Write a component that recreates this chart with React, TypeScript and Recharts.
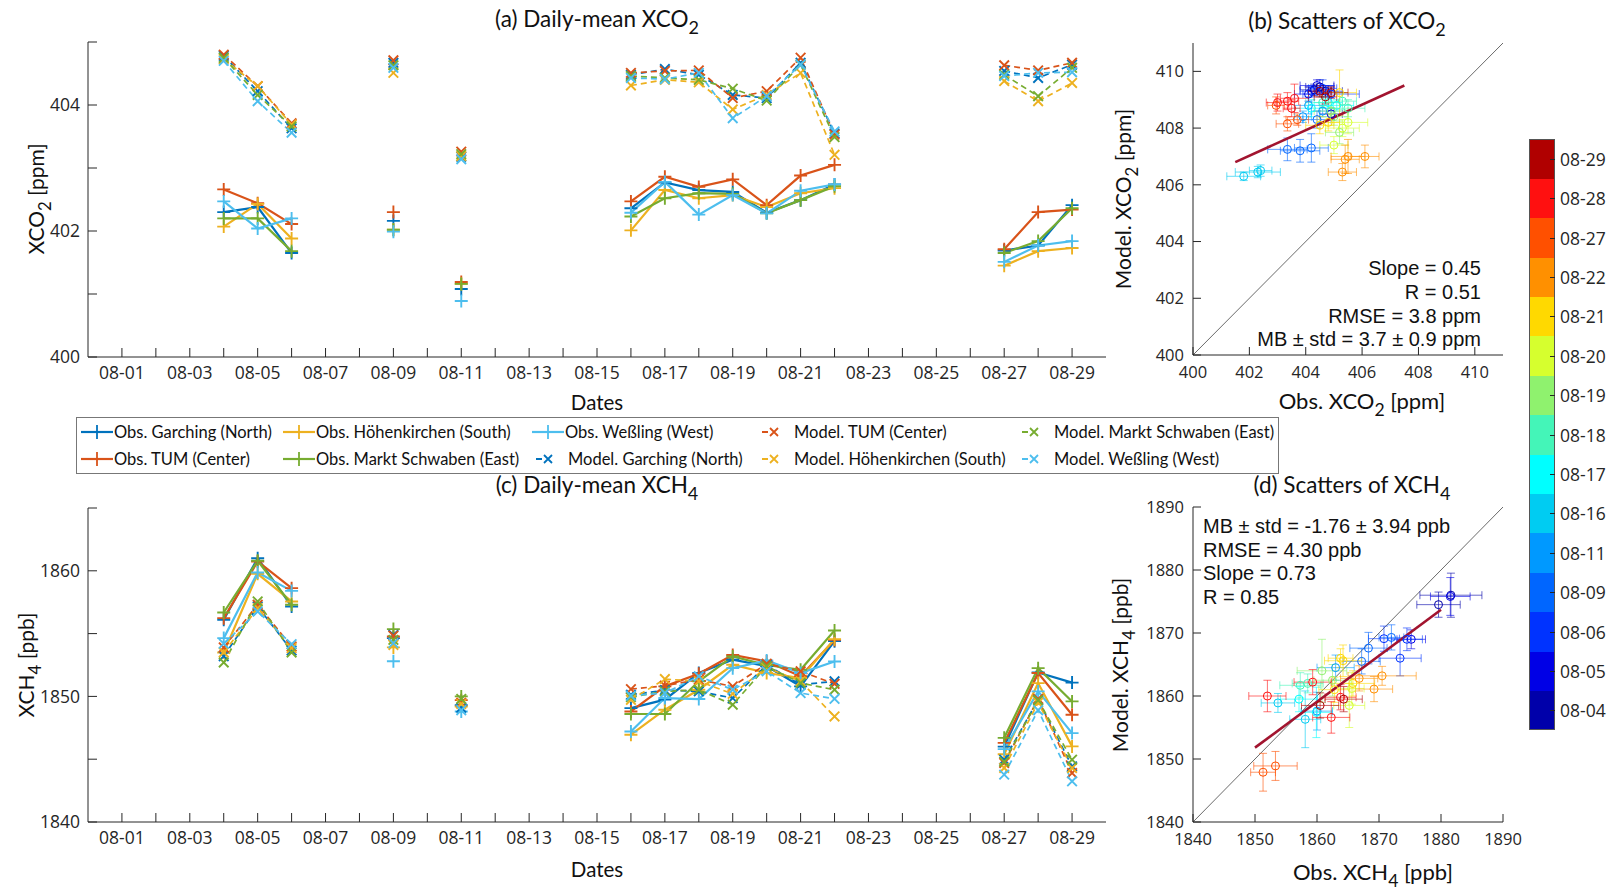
import React from "react";
import {
  ErrorBar,
  Line,
  LineChart,
  ReferenceLine,
  Scatter,
  ScatterChart,
  XAxis,
  YAxis,
} from "recharts";

const INK = "#262626";
const LABEL_FONT = "Lato, 'Open Sans', sans-serif";
const TICK_FONT = "'Open Sans', 'DejaVu Sans', sans-serif";
const STAT_FONT = "'Liberation Sans', Arial, sans-serif";

// stations, in MATLAB default colour order
const stationKeys = ["garching", "tum", "hoehen", "ms", "wess"];
const stationNames = [
  "Garching (North)",
  "TUM (Center)",
  "Höhenkirchen (South)",
  "Markt Schwaben (East)",
  "Weßling (West)",
];
const stationColors = ["#0072BD", "#D95319", "#EDB120", "#77AC30", "#4DBEEE"];

// day of August with a measurement
const obsDays = [4, 5, 6, 9, 11, 16, 17, 18, 19, 20, 21, 22, 27, 28, 29];
const dateTicks = [1, 2, 3, 4, 5, 6, 7, 8, 9, 10, 11, 12, 13, 14, 15, 16, 17, 18, 19, 20, 21, 22, 23, 24, 25, 26, 27, 28, 29];

// (a) daily-mean XCO2 [ppm]
const xco2ObsGarching = [402.3, 402.38, 401.65, 402.16, 401.08, 402.36, 402.77, 402.65, 402.62, 402.29, 402.49, 402.74, 401.69, 401.77, 402.41];
const xco2ObsTum = [402.66, 402.44, 402.11, 402.3, 401.19, 402.47, 402.86, 402.7, 402.82, 402.41, 402.88, 403.05, 401.71, 402.3, 402.34];
const xco2ObsHoehen = [402.07, 402.43, 401.88, 402.02, 401.16, 402.01, 402.65, 402.52, 402.57, 402.38, 402.6, 402.68, 401.45, 401.68, 401.73];
const xco2ObsMs = [402.2, 402.2, 401.68, 402.02, 401.16, 402.23, 402.52, 402.6, 402.59, 402.28, 402.49, 402.71, 401.65, 401.84, 402.36];
const xco2ObsWess = [402.47, 402.04, 402.2, 401.99, 400.89, 402.29, 402.78, 402.26, 402.57, 402.28, 402.64, 402.74, 401.51, 401.77, 401.84];

const xco2ModelGarching = [404.78, 404.22, 403.63, 404.67, 403.18, 404.48, 404.57, 404.48, 404.16, 404.11, 404.67, 403.55, 404.54, 404.43, 404.64];
const xco2ModelTum = [404.8, 404.3, 403.71, 404.71, 403.26, 404.51, 404.54, 404.55, 404.11, 404.22, 404.75, 403.53, 404.63, 404.55, 404.67];
const xco2ModelHoehen = [404.73, 404.3, 403.69, 404.51, 403.19, 404.31, 404.4, 404.36, 403.93, 404.16, 404.51, 403.21, 404.38, 404.06, 404.35];
const xco2ModelMs = [404.75, 404.16, 403.66, 404.63, 403.22, 404.46, 404.43, 404.4, 404.26, 404.07, 404.64, 403.49, 404.48, 404.14, 404.59];
const xco2ModelWess = [404.7, 404.06, 403.56, 404.59, 403.14, 404.43, 404.41, 404.51, 403.79, 404.14, 404.64, 403.58, 404.46, 404.51, 404.52];

// (c) daily-mean XCH4 [ppb]
const xch4ObsGarching = [1856.1, 1861.0, 1857.16, 1854.64, 1849.3, 1849.07, 1849.74, 1851.86, 1852.92, 1852.4, 1850.8, 1854.4, 1846.0, 1851.9, 1851.1];
const xch4ObsTum = [1856.23, 1860.74, 1858.62, 1854.77, 1849.7, 1848.8, 1850.8, 1851.8, 1853.3, 1852.78, 1851.6, 1854.5, 1846.3, 1851.86, 1848.54];
const xch4ObsHoehen = [1853.5, 1859.76, 1857.56, 1853.9, 1849.2, 1846.95, 1848.94, 1850.53, 1852.52, 1851.86, 1851.46, 1854.56, 1845.4, 1851.06, 1846.02];
const xch4ObsMs = [1856.68, 1860.8, 1857.3, 1855.36, 1850.0, 1848.6, 1848.6, 1851.2, 1853.18, 1852.5, 1852.12, 1855.25, 1846.7, 1852.25, 1849.6];
const xch4ObsWess = [1854.64, 1859.87, 1858.4, 1852.8, 1848.8, 1847.2, 1849.87, 1849.79, 1852.25, 1852.86, 1851.86, 1852.78, 1845.8, 1850.4, 1847.08];

const xch4ModelGarching = [1853.2, 1857.16, 1853.66, 1854.9, 1849.1, 1850.13, 1850.5, 1850.4, 1849.87, 1852.5, 1850.93, 1851.2, 1844.96, 1849.73, 1844.43];
const xch4ModelTum = [1853.9, 1857.3, 1853.98, 1854.83, 1849.5, 1850.58, 1850.85, 1851.33, 1850.8, 1852.6, 1852.0, 1851.0, 1844.7, 1849.8, 1843.9];
const xch4ModelHoehen = [1853.5, 1857.03, 1853.85, 1854.1, 1849.4, 1849.73, 1851.38, 1851.2, 1850.2, 1852.3, 1851.2, 1848.4, 1844.3, 1849.5, 1844.3];
const xch4ModelMs = [1852.7, 1857.56, 1853.5, 1854.5, 1849.8, 1849.95, 1850.4, 1850.53, 1849.34, 1852.4, 1851.06, 1850.53, 1844.8, 1849.7, 1844.96];
const xch4ModelWess = [1854.2, 1856.76, 1854.16, 1854.24, 1848.9, 1850.05, 1850.27, 1851.6, 1850.53, 1852.0, 1850.27, 1849.81, 1843.77, 1848.9, 1843.24];

// colour bar (bottom to top)
const cbLabels = ["08-04", "08-05", "08-06", "08-09", "08-11", "08-16", "08-17", "08-18", "08-19", "08-20", "08-21", "08-22", "08-27", "08-28", "08-29"];
const cbColors = ["#0000AA", "#0000E6", "#0033FF", "#0066FF", "#0099FF", "#00CCF2", "#00FFFF", "#44F5B8", "#8FF26E", "#D6FF2E", "#FFD900", "#FF9000", "#FF5000", "#FF1010", "#B00000"];

// (b) scatter of XCO2: obs vs model with std error bars
const co2PtDate = ["08-04", "08-04", "08-04", "08-05", "08-05", "08-05", "08-06", "08-06", "08-06", "08-09", "08-09", "08-09", "08-09", "08-11", "08-11", "08-11", "08-16", "08-16", "08-16", "08-17", "08-17", "08-17", "08-18", "08-18", "08-18", "08-19", "08-19", "08-19", "08-20", "08-20", "08-20", "08-21", "08-21", "08-21", "08-22", "08-22", "08-22", "08-22", "08-27", "08-27", "08-27", "08-28", "08-28", "08-28", "08-28", "08-29", "08-29", "08-29"];
const co2PtObs = [404.5, 404.3, 404.7, 404.4, 404.1, 404.9, 404.2, 404.6, 404.9, 403.35, 403.8, 404.2, 404.4, 404.1, 404.6, 403.9, 401.8, 402.3, 402.4, 404.2, 404.8, 405.1, 404.6, 405.3, 405.5, 405.2, 404.9, 405.0, 405.5, 405.0, 405.3, 405.2, 404.5, 404.8, 405.3, 405.5, 406.1, 405.4, 403.35, 403.7, 402.95, 403.0, 403.35, 403.5, 403.6, 404.7, 404.9, 404.5];
const co2PtModel = [409.45, 409.35, 409.3, 409.5, 409.2, 408.5, 409.3, 409.4, 409.2, 407.25, 407.2, 407.3, 408.3, 408.8, 408.6, 408.4, 406.3, 406.45, 406.5, 408.7, 408.9, 408.8, 408.9, 408.95, 408.7, 407.85, 408.6, 408.4, 408.2, 407.4, 408.0, 409.25, 408.1, 408.2, 406.45, 407.0, 407.0, 406.9, 408.15, 408.3, 408.8, 408.9, 408.95, 408.7, 409.05, 409.1, 409.25, 409.3];
const co2PtObsErr = [0.5, 0.5, 0.6, 0.6, 0.5, 0.4, 0.4, 0.5, 1.0, 0.7, 0.7, 0.6, 0.5, 0.5, 0.4, 0.3, 0.6, 0.8, 0.4, 0.6, 0.5, 0.6, 0.6, 0.5, 0.6, 0.5, 0.6, 0.5, 0.7, 0.5, 0.6, 0.6, 0.5, 0.4, 0.5, 0.6, 0.5, 0.5, 0.4, 0.4, 0.3, 0.4, 0.4, 0.3, 0.5, 0.4, 0.6, 0.4];
const co2PtModelErr = [0.25, 0.2, 0.2, 0.2, 0.25, 0.2, 0.2, 0.3, 0.3, 0.4, 0.4, 0.5, 0.3, 0.3, 0.2, 0.2, 0.15, 0.2, 0.2, 0.3, 0.2, 0.2, 0.2, 0.3, 0.3, 0.4, 0.3, 0.3, 0.4, 0.3, 0.3, 0.8, 0.3, 0.3, 0.3, 0.6, 0.4, 0.5, 0.25, 0.2, 0.3, 0.3, 0.3, 0.3, 0.5, 0.25, 0.2, 0.2];
const co2Fit = [{ x: 401.5, y: 406.8 }, { x: 407.5, y: 409.5 }];

// (d) scatter of XCH4
const ch4PtDate = ["08-04", "08-04", "08-05", "08-05", "08-06", "08-06", "08-06", "08-09", "08-09", "08-09", "08-11", "08-11", "08-16", "08-16", "08-17", "08-17", "08-18", "08-18", "08-19", "08-19", "08-20", "08-20", "08-21", "08-21", "08-21", "08-21", "08-22", "08-22", "08-22", "08-27", "08-27", "08-28", "08-28", "08-28", "08-28", "08-29", "08-29"];
const ch4PtObs = [1881.6, 1879.6, 1881.5, 1875.2, 1874.5, 1873.4, 1870.8, 1867.2, 1868.3, 1872.0, 1860.0, 1863.0, 1858.1, 1853.7, 1857.1, 1859.9, 1857.3, 1858.5, 1860.8, 1862.5, 1865.2, 1865.6, 1863.8, 1864.2, 1865.8, 1862.8, 1870.5, 1869.2, 1866.8, 1851.3, 1853.3, 1852.0, 1859.3, 1862.3, 1863.8, 1860.5, 1864.3];
const ch4PtModel = [1876.0, 1874.5, 1875.8, 1869.0, 1869.0, 1866.0, 1869.1, 1865.5, 1867.6, 1869.3, 1857.6, 1864.5, 1856.3, 1858.9, 1859.5, 1857.4, 1861.7, 1862.0, 1864.0, 1862.5, 1858.5, 1861.2, 1866.0, 1865.6, 1862.0, 1861.0, 1863.2, 1861.1, 1862.8, 1847.9, 1848.9, 1860.0, 1862.2, 1856.6, 1859.8, 1858.5, 1859.5];
const ch4PtObsErr = [5, 3.5, 3.2, 2.3, 2.5, 3.4, 2.5, 3, 3, 2, 2.5, 3, 2.5, 2.7, 3, 2.5, 3.3, 2.5, 4, 3, 2.5, 2, 2, 3, 3.5, 2.5, 5.5, 3, 3, 2, 3.5, 3, 3, 3, 2.5, 3, 3];
const ch4PtModelErr = [3.5, 2, 3, 1.5, 1.8, 2.8, 2, 2, 2.5, 2, 3, 2, 4.5, 1.5, 2, 4, 2, 1.5, 5, 2.5, 3.5, 2.5, 1.5, 2.5, 2, 2, 1.5, 2, 2, 3, 2.3, 2.5, 2, 2.5, 2, 2, 2];
const ch4Fit = [{ x: 1850, y: 1851.8 }, { x: 1880, y: 1873.7 }];

const co2ScatterTicks = [400, 402, 404, 406, 408, 410];
const ch4ScatterTicks = [1840, 1850, 1860, 1870, 1880, 1890];

function buildRows(obs: number[][], model: number[][]) {
  const rows: Record<string, number | null>[] = [];
  for (let d = obsDays[0]; d <= obsDays[obsDays.length - 1]; d++) {
    const i = obsDays.indexOf(d);
    const row: Record<string, number | null> = { day: d };
    stationKeys.forEach((k, s) => {
      row["obs_" + k] = i >= 0 ? obs[s][i] : null;
      row["model_" + k] = i >= 0 ? model[s][i] : null;
    });
    rows.push(row);
  }
  return rows;
}

const co2Rows = buildRows(
  [xco2ObsGarching, xco2ObsTum, xco2ObsHoehen, xco2ObsMs, xco2ObsWess],
  [xco2ModelGarching, xco2ModelTum, xco2ModelHoehen, xco2ModelMs, xco2ModelWess]
);
const ch4Rows = buildRows(
  [xch4ObsGarching, xch4ObsTum, xch4ObsHoehen, xch4ObsMs, xch4ObsWess],
  [xch4ModelGarching, xch4ModelTum, xch4ModelHoehen, xch4ModelMs, xch4ModelWess]
);

function groupPoints(dates: string[], xs: number[], ys: number[], exs: number[], eys: number[]) {
  return cbLabels
    .map((lab, ci) => ({
      label: lab,
      color: cbColors[ci],
      points: dates
        .map((d, i) => (d === lab ? { x: xs[i], y: ys[i], ex: exs[i], ey: eys[i] } : null))
        .filter((p) => p !== null),
    }))
    .filter((g) => g.points.length > 0);
}

const co2Groups = groupPoints(co2PtDate, co2PtObs, co2PtModel, co2PtObsErr, co2PtModelErr);
const ch4Groups = groupPoints(ch4PtDate, ch4PtObs, ch4PtModel, ch4PtObsErr, ch4PtModelErr);

const fmtDay = (d: number) => (d % 2 === 1 ? `08-${String(d).padStart(2, "0")}` : "");

function plusDot(color: string) {
  return (p: any) => {
    const { cx, cy, index } = p;
    if (cx == null || cy == null || Number.isNaN(cy)) return <g key={index} />;
    const s = 6.5;
    return (
      <path key={index} d={`M${cx - s},${cy}H${cx + s}M${cx},${cy - s}V${cy + s}`} stroke={color} strokeWidth={1.9} fill="none" />
    );
  };
}

function crossDot(color: string) {
  return (p: any) => {
    const { cx, cy, index } = p;
    if (cx == null || cy == null || Number.isNaN(cy)) return <g key={index} />;
    const s = 4.8;
    return (
      <path key={index} d={`M${cx - s},${cy - s}L${cx + s},${cy + s}M${cx - s},${cy + s}L${cx + s},${cy - s}`} stroke={color} strokeWidth={1.9} fill="none" />
    );
  };
}

const tickStyle = (size: number) => ({ fill: INK, fontSize: size, fontFamily: TICK_FONT });

interface TimePanelProps {
  top: number
  height: number
  marginTop: number
  xAxisHeight: number
  rows: Record<string, number | null>[]
  yDomain: [number, number]
  yTicks: number[]
  yLabel: (v: number) => string
}

function TimePanel({ top, height, marginTop, xAxisHeight, rows, yDomain, yTicks, yLabel }: TimePanelProps) {
  return (
    <div style={{ position: "absolute", left: 0, top }}>
      <LineChart width={1120} height={height} data={rows} margin={{ top: marginTop, right: 14, left: 0, bottom: 0 }}>
        <XAxis xAxisId="b" type="number" dataKey="day" domain={[0, 30]} allowDataOverflow ticks={dateTicks} interval={0}
          tickFormatter={fmtDay} tickSize={-9} tickMargin={19} height={xAxisHeight} stroke={INK} tick={tickStyle(17.5)} />
        <XAxis xAxisId="t" orientation="top" type="number" dataKey="day" domain={[0, 30]} allowDataOverflow ticks={dateTicks}
          interval={0} tick={false} tickSize={-9} height={0} stroke={INK} />
        <YAxis yAxisId="l" type="number" domain={yDomain} allowDataOverflow ticks={yTicks} interval={0}
          tickFormatter={yLabel} tickSize={-9} tickMargin={17} width={88} stroke={INK} tick={tickStyle(17.5)} />
        <YAxis yAxisId="r" orientation="right" type="number" domain={yDomain} allowDataOverflow ticks={yTicks}
          interval={0} tick={false} tickSize={-9} width={0} stroke={INK} />
        {stationKeys.map((k, s) => (
          <Line key={"obs" + k} xAxisId="b" yAxisId="l" type="linear" dataKey={"obs_" + k} stroke={stationColors[s]}
            strokeWidth={2.2} dot={plusDot(stationColors[s])} activeDot={false} connectNulls={false} isAnimationActive={false} />
        ))}
        {stationKeys.map((k, s) => (
          <Line key={"model" + k} xAxisId="b" yAxisId="l" type="linear" dataKey={"model_" + k} stroke={stationColors[s]}
            strokeWidth={1.7} strokeDasharray="6 4" dot={crossDot(stationColors[s])} activeDot={false} connectNulls={false}
            isAnimationActive={false} />
        ))}
      </LineChart>
    </div>
  );
}

interface ScatterPanelProps {
  top: number
  height: number
  marginTop: number
  xAxisHeight: number
  domain: [number, number]
  ticks: number[]
  groups: ReturnType<typeof groupPoints>
  fit: { x: number; y: number }[]
}

function ScatterPanel({ top, height, marginTop, xAxisHeight, domain, ticks, groups, fit }: ScatterPanelProps) {
  return (
    <div style={{ position: "absolute", left: 1100, top }}>
      <ScatterChart width={425} height={height} margin={{ top: marginTop, right: 22, left: 0, bottom: 0 }}>
        <XAxis xAxisId="b" type="number" dataKey="x" domain={domain} allowDataOverflow ticks={ticks} interval={0}
          tickSize={-8} tickMargin={19} height={xAxisHeight} stroke={INK} tick={tickStyle(16.5)} />
        <XAxis xAxisId="t" orientation="top" type="number" dataKey="x" domain={domain} allowDataOverflow ticks={ticks}
          interval={0} tick={false} tickSize={-8} height={0} stroke={INK} />
        <YAxis yAxisId="l" type="number" dataKey="y" domain={domain} allowDataOverflow ticks={ticks} interval={0}
          tickSize={-8} tickMargin={17} width={93} stroke={INK} tick={tickStyle(16.5)} />
        <YAxis yAxisId="r" orientation="right" type="number" dataKey="y" domain={domain} allowDataOverflow ticks={ticks}
          interval={0} tick={false} tickSize={-8} width={0} stroke={INK} />
        <ReferenceLine xAxisId="b" yAxisId="l" segment={[{ x: domain[0], y: domain[0] }, { x: domain[1], y: domain[1] }]}
          stroke="#444" strokeWidth={0.8} ifOverflow="hidden" />
        {groups.map((g) => (
          <Scatter key={g.label} xAxisId="b" yAxisId="l" data={g.points} isAnimationActive={false}
            shape={(p: any) => <circle cx={p.cx} cy={p.cy} r={4} fill="none" stroke={g.color} strokeWidth={1} />}>
            <ErrorBar dataKey="ex" direction="x" width={4} stroke={g.color} strokeWidth={1} strokeOpacity={0.6} />
            <ErrorBar dataKey="ey" direction="y" width={4} stroke={g.color} strokeWidth={1} strokeOpacity={0.6} />
          </Scatter>
        ))}
        <ReferenceLine xAxisId="b" yAxisId="l" segment={fit} stroke="#A2142F" strokeWidth={2.6} ifOverflow="hidden" />
      </ScatterChart>
    </div>
  );
}

function Label({ x, y, size = 21, rotate = false, children }: { x: number; y: number; size?: number; rotate?: boolean; children: React.ReactNode }) {
  return (
    <div
      style={{
        position: "absolute",
        left: x,
        top: y,
        transform: `translate(-50%, -50%)${rotate ? " rotate(-90deg)" : ""}`,
        whiteSpace: "nowrap",
        fontFamily: LABEL_FONT,
        fontSize: size,
        color: "#111",
        lineHeight: 1,
      }}
    >
      {children}
    </div>
  );
}

const Sub = ({ children }: { children: React.ReactNode }) => (
  <span style={{ fontSize: "0.8em", position: "relative", top: "0.4em" }}>{children}</span>
);

function LegendIcon({ color, model }: { color: string; model: boolean }) {
  return (
    <svg width={32} height={16} style={{ display: "block" }}>
      {model ? (
        <>
          <line x1={4} y1={8} x2={10} y2={8} stroke={color} strokeWidth={2} />
          <path d="M12,4L20,12M12,12L20,4" stroke={color} strokeWidth={1.8} />
        </>
      ) : (
        <>
          <line x1={0} y1={8} x2={32} y2={8} stroke={color} strokeWidth={2.2} />
          <path d="M16,1V15" stroke={color} strokeWidth={1.8} />
        </>
      )}
    </svg>
  );
}

// legend layout: [row][col] -> [station index, isModel]
const legendRows: [number, boolean][][] = [
  [[0, false], [2, false], [4, false], [1, true], [3, true]],
  [[1, false], [3, false], [0, true], [2, true], [4, true]],
];
const legendColX = [80, 282, 531, 757, 1017];

function Legend() {
  return (
    <div style={{ position: "absolute", left: 76, top: 417, width: 1203, height: 57, border: "1px solid #777", boxSizing: "border-box" }}>
      {legendRows.map((row, r) =>
        row.map(([s, model], c) => (
          <div key={`${r}-${c}`} style={{ position: "absolute", left: legendColX[c] - 76, top: r === 0 ? 5 : 32, display: "flex", alignItems: "center", height: 18 }}>
            <LegendIcon color={stationColors[s]} model={model} />
            <span style={{ marginLeft: model ? 4 : 1, fontFamily: LABEL_FONT, fontSize: 16.5, color: "#111", whiteSpace: "nowrap" }}>
              {(model ? "Model. " : "Obs. ") + stationNames[s]}
            </span>
          </div>
        ))
      )}
    </div>
  );
}

function ColorBar() {
  const top = 139;
  const h = 591;
  const block = h / cbColors.length;
  return (
    <div style={{ position: "absolute", left: 1529, top, width: 26, height: h }}>
      {cbColors.map((c, i) => (
        <div key={c} style={{ position: "absolute", left: 0, width: 26, top: h - (i + 1) * block, height: block + 0.5, background: c }} />
      ))}
      <div style={{ position: "absolute", inset: 0, border: "1px solid #555" }} />
      {cbLabels.map((lab, i) => (
        <React.Fragment key={lab}>
          <div style={{ position: "absolute", left: 21, width: 5, height: 1, background: INK, top: h - (i + 0.5) * block }} />
          <div style={{ position: "absolute", left: 31, top: h - (i + 0.5) * block - 12, fontFamily: TICK_FONT, fontSize: 17.5, color: INK, lineHeight: "24px", whiteSpace: "nowrap" }}>
            {lab}
          </div>
        </React.Fragment>
      ))}
    </div>
  );
}

export default function App() {
  return (
    <div style={{ position: "absolute", left: 0, top: 0, width: 1617, height: 891, background: "#fff", overflow: "hidden" }}>
      <TimePanel top={0} height={400} marginTop={42} xAxisHeight={43} rows={co2Rows} yDomain={[400, 405]}
        yTicks={[400, 401, 402, 403, 404, 405]} yLabel={(v) => (v % 2 === 0 ? String(v) : "")} />
      <TimePanel top={460} height={420} marginTop={48} xAxisHeight={58} rows={ch4Rows} yDomain={[1840, 1865]}
        yTicks={[1840, 1845, 1850, 1855, 1860, 1865]} yLabel={(v) => (v % 10 === 0 ? String(v) : "")} />
      <ScatterPanel top={0} height={400} marginTop={43} xAxisHeight={45} domain={[400, 411]} ticks={co2ScatterTicks}
        groups={co2Groups} fit={co2Fit} />
      <ScatterPanel top={460} height={420} marginTop={47} xAxisHeight={58} domain={[1840, 1890]} ticks={ch4ScatterTicks}
        groups={ch4Groups} fit={ch4Fit} />

      <Label x={597} y={19} size={22.5}>(a) Daily-mean XCO<Sub>2</Sub></Label>
      <Label x={597} y={402} size={20.5}>Dates</Label>
      <Label x={36} y={199} rotate>XCO<Sub>2</Sub> [ppm]</Label>

      <Label x={597} y={485} size={22.5}>(c) Daily-mean XCH<Sub>4</Sub></Label>
      <Label x={597} y={869} size={20.5}>Dates</Label>
      <Label x={26} y={665} rotate>XCH<Sub>4</Sub> [ppb]</Label>

      <Label x={1347} y={21} size={22.5}>(b) Scatters of XCO<Sub>2</Sub></Label>
      <Label x={1362} y={401} size={22}>Obs. XCO<Sub>2</Sub> [ppm]</Label>
      <Label x={1123} y={199} rotate>Model. XCO<Sub>2</Sub> [ppm]</Label>

      <Label x={1352} y={485} size={22.5}>(d) Scatters of XCH<Sub>4</Sub></Label>
      <Label x={1373} y={872} size={22}>Obs. XCH<Sub>4</Sub> [ppb]</Label>
      <Label x={1120} y={665} rotate>Model. XCH<Sub>4</Sub> [ppb]</Label>

      <div style={{ position: "absolute", right: 1617 - 1481, top: 257, textAlign: "right", fontFamily: STAT_FONT, fontSize: 20, lineHeight: "23.8px", color: "#111", whiteSpace: "nowrap" }}>
        <div>Slope = 0.45</div>
        <div>R = 0.51</div>
        <div>RMSE = 3.8 ppm</div>
        <div>MB ± std = 3.7 ± 0.9 ppm</div>
      </div>
      <div style={{ position: "absolute", left: 1203, top: 515, fontFamily: STAT_FONT, fontSize: 20, lineHeight: "23.7px", color: "#111", whiteSpace: "nowrap" }}>
        <div>MB ± std = -1.76 ± 3.94 ppb</div>
        <div>RMSE = 4.30 ppb</div>
        <div>Slope = 0.73</div>
        <div>R = 0.85</div>
      </div>

      <Legend />
      <ColorBar />
    </div>
  );
}
